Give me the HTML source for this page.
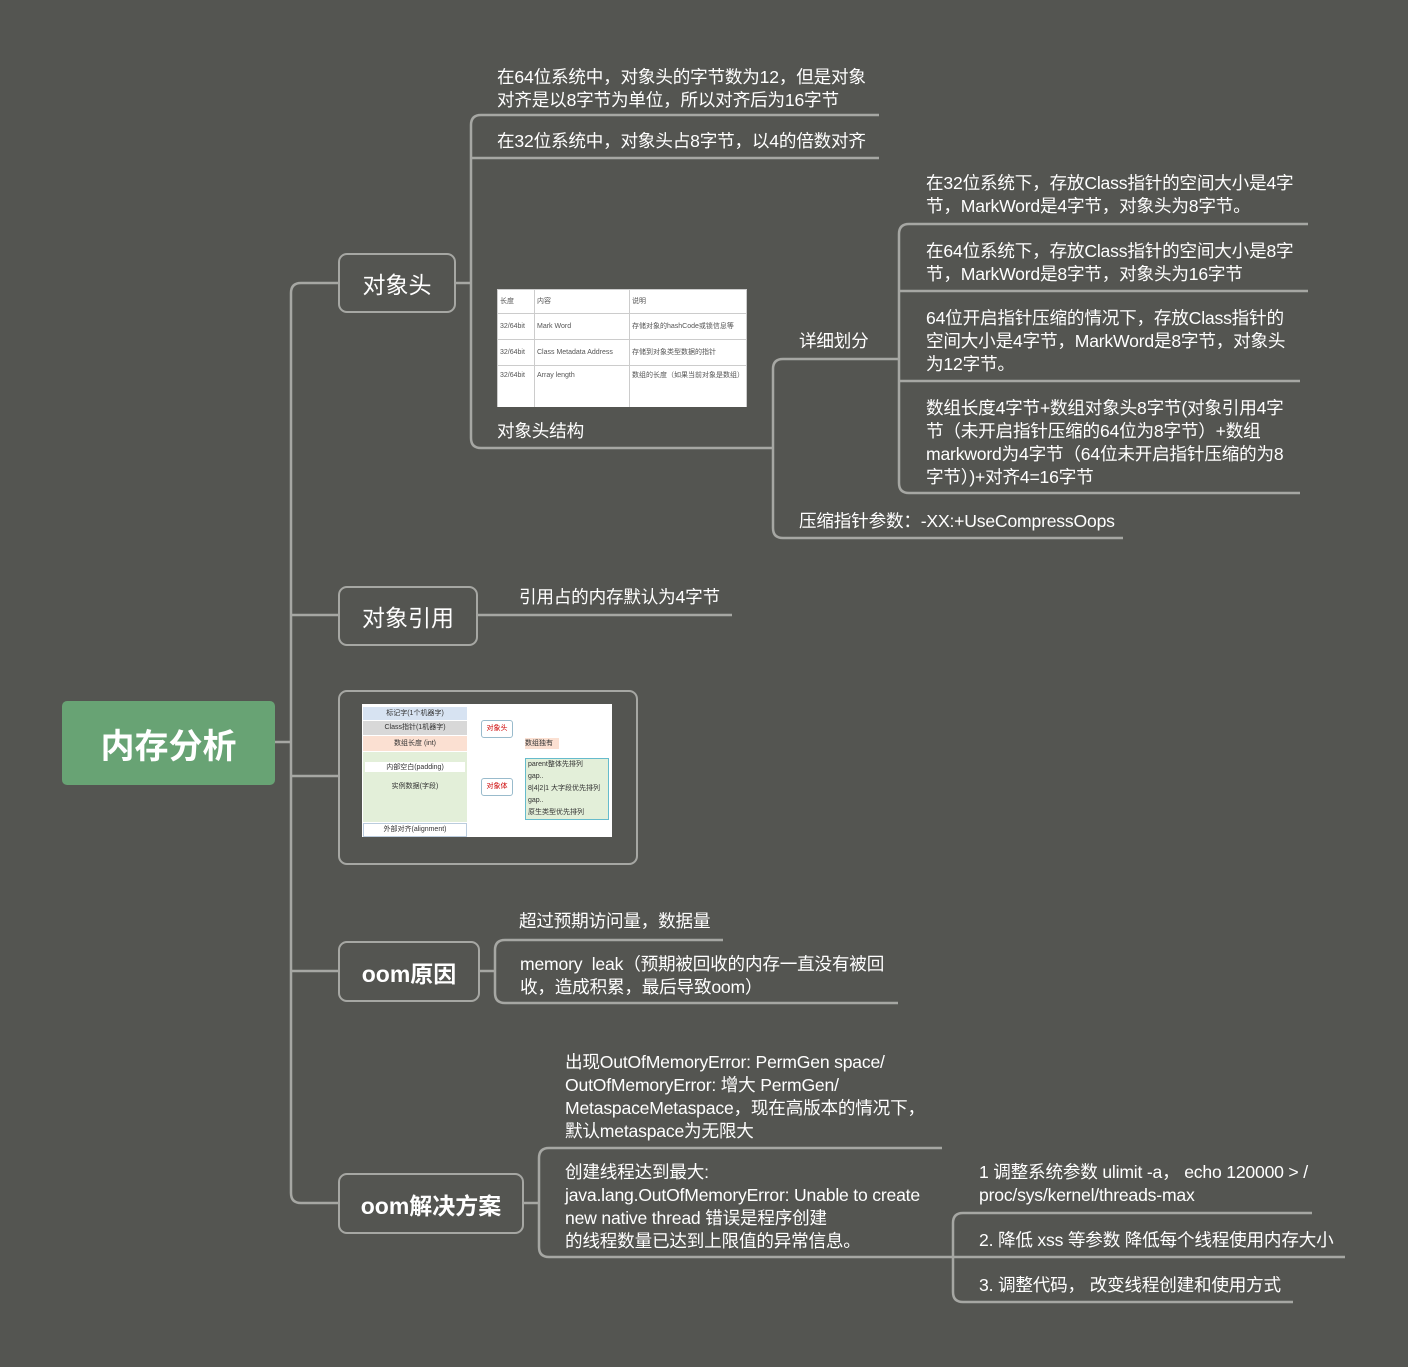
<!DOCTYPE html>
<html><head><meta charset="utf-8"><style>
body{margin:0;width:1408px;height:1367px;background:#545551;position:relative;overflow:hidden;font-family:"Liberation Sans","Noto Sans CJK SC",sans-serif;color:#fff}
.t{position:absolute;font-size:17.6px;line-height:23px;white-space:nowrap;letter-spacing:-0.2px}
.b{position:absolute;border:2.5px solid #a6a7a3;border-radius:9px;box-sizing:border-box;display:flex;align-items:center;justify-content:center;font-size:23px;color:#fff}
table{border-collapse:collapse;font-size:7px;color:#555;table-layout:fixed}
td{border:1px solid #ccc;padding:0 2px;line-height:8px;overflow:hidden;white-space:nowrap}
</style></head><body>
<svg width="1408" height="1367" style="position:absolute;left:0;top:0" fill="none" stroke="#a6a7a3" stroke-width="2.5">
<path d="M274 742H291"/>
<path d="M338 283H301Q291 283 291 293V1193Q291 1203 301 1203H338"/>
<path d="M291 615H338M291 776H338M291 971H338"/>
<path d="M455 283H471"/>
<path d="M879 115H481Q471 115 471 125V438Q471 448 481 448H773"/>
<path d="M471 158H879"/>
<path d="M773 448V528Q773 538 783 538H1123"/>
<path d="M899 359H783Q773 359 773 369V448"/>
<path d="M1308 224H909Q899 224 899 234V483Q899 493 909 493H1300"/>
<path d="M899 291H1308M899 381H1300"/>
<path d="M477 615H732"/>
<path d="M479 971H495"/>
<path d="M723 940H505Q495 940 495 950V993Q495 1003 505 1003H898"/>
<path d="M523 1203H539"/>
<path d="M942 1148H549Q539 1148 539 1158V1247Q539 1257 549 1257H953"/>
<path d="M1312 1213H963Q953 1213 953 1223V1292Q953 1302 963 1302H1293"/>
<path d="M953 1257H1345"/>
</svg>
<div class="b" style="left:62px;top:701px;width:213px;height:84px;background:#68a374;border:none;border-radius:5px;font-size:34px;font-weight:bold">内存分析</div>
<div class="b" style="left:338px;top:253px;width:118px;height:60px">对象头</div>
<div class="b" style="left:338px;top:586px;width:140px;height:60px">对象引用</div>
<div class="b" style="left:338px;top:690px;width:300px;height:175px"></div>
<div class="b" style="left:338px;top:941px;width:142px;height:61px;font-weight:bold">oom原因</div>
<div class="b" style="left:338px;top:1173px;width:186px;height:61px;font-weight:bold">oom解决方案</div>

<div class="t" style="left:497px;top:66px">在64位系统中，对象头的字节数为12，但是对象<br>对齐是以8字节为单位，所以对齐后为16字节</div>
<div class="t" style="left:497px;top:130px">在32位系统中，对象头占8字节，以4的倍数对齐</div>
<div style="position:absolute;left:497px;top:289px;width:250px;height:118px;background:#fff;overflow:hidden">
<table style="width:250px"><tr style="height:24px"><td style="width:32px">长度</td><td style="width:90px">内容</td><td>说明</td></tr>
<tr style="height:26px"><td>32/64bit</td><td>Mark Word</td><td>存储对象的hashCode或锁信息等</td></tr>
<tr style="height:26px"><td>32/64bit</td><td>Class Metadata Address</td><td>存储到对象类型数据的指针</td></tr>
<tr style="height:42px"><td style="vertical-align:top;padding-top:6px">32/64bit</td><td style="vertical-align:top;padding-top:6px">Array length</td><td style="vertical-align:top;padding-top:6px">数组的长度（如果当前对象是数组）</td></tr></table></div>
<div class="t" style="left:497px;top:420px">对象头结构</div>
<div class="t" style="left:799px;top:330px">详细划分</div>
<div class="t" style="left:926px;top:172px">在32位系统下，存放Class指针的空间大小是4字<br>节，MarkWord是4字节，对象头为8字节。</div>
<div class="t" style="left:926px;top:240px">在64位系统下，存放Class指针的空间大小是8字<br>节，MarkWord是8字节，对象头为16字节</div>
<div class="t" style="left:926px;top:307px">64位开启指针压缩的情况下，存放Class指针的<br>空间大小是4字节，MarkWord是8字节，对象头<br>为12字节。</div>
<div class="t" style="left:926px;top:397px">数组长度4字节+数组对象头8字节(对象引用4字<br>节（未开启指针压缩的64位为8字节）+数组<br>markword为4字节（64位未开启指针压缩的为8<br>字节）)+对齐4=16字节</div>
<div class="t" style="left:799px;top:510px">压缩指针参数：-XX:+UseCompressOops</div>
<div class="t" style="left:519px;top:586px">引用占的内存默认为4字节</div>

<div style="position:absolute;left:362px;top:704px;width:250px;height:133px;background:#fff;font-size:7px;color:#333">
<div style="position:absolute;left:1px;top:3px;width:104px;height:13px;background:#d7e3f2;text-align:center;line-height:13px">标记字(1个机器字)</div>
<div style="position:absolute;left:1px;top:17px;width:104px;height:14px;background:#d8d8d8;text-align:center;line-height:14px">Class指针(1机器字)</div>
<div style="position:absolute;left:1px;top:32px;width:104px;height:15px;background:#fbe0d2;text-align:center;line-height:15px">数组长度 (int)</div>
<div style="position:absolute;left:1px;top:48px;width:104px;height:70px;background:#e3efd9"><div style="margin:10px 2px 0;background:#fff;text-align:center">内部空白(padding)</div><div style="text-align:center;margin-top:9px">实例数据(字段)</div></div>
<div style="position:absolute;left:1px;top:119px;width:102px;height:12px;text-align:center;border:1px solid #bcd">外部对齐(alignment)</div>
<div style="position:absolute;left:119px;top:16px;width:30px;height:16px;border:1px solid #9bc;border-radius:3px;color:#c00;text-align:center;line-height:16px">对象头</div>
<div style="position:absolute;left:119px;top:74px;width:30px;height:16px;border:1px solid #9bc;border-radius:3px;color:#c00;text-align:center;line-height:16px">对象体</div>
<div style="position:absolute;left:163px;top:34px;width:34px;height:11px;background:#fbe0d2;line-height:11px">数组独有</div>
<div style="position:absolute;left:163px;top:54px;width:80px;height:60px;border:1px solid #6bc;background:#e3efd9;line-height:12px;padding-left:2px">parent整体先排列<br>gap..<br>8|4|2|1 大字段优先排列<br>gap..<br>原生类型优先排列</div>
</div>

<div class="t" style="left:519px;top:910px">超过预期访问量，数据量</div>
<div class="t" style="left:520px;top:953px">memory&nbsp; leak（预期被回收的内存一直没有被回<br>收，造成积累，最后导致oom）</div>
<div class="t" style="left:565px;top:1051px">出现OutOfMemoryError: PermGen space/<br>OutOfMemoryError: 增大 PermGen/<br>MetaspaceMetaspace，现在高版本的情况下，<br>默认metaspace为无限大</div>
<div class="t" style="left:565px;top:1161px">创建线程达到最大:<br>java.lang.OutOfMemoryError: Unable to create<br>new native thread 错误是程序创建<br>的线程数量已达到上限值的异常信息。</div>
<div class="t" style="left:979px;top:1161px">1 调整系统参数 ulimit -a， echo 120000 &gt; /<br>proc/sys/kernel/threads-max</div>
<div class="t" style="left:979px;top:1229px">2. 降低 xss 等参数 降低每个线程使用内存大小</div>
<div class="t" style="left:979px;top:1274px">3. 调整代码， 改变线程创建和使用方式</div>
</body></html>
